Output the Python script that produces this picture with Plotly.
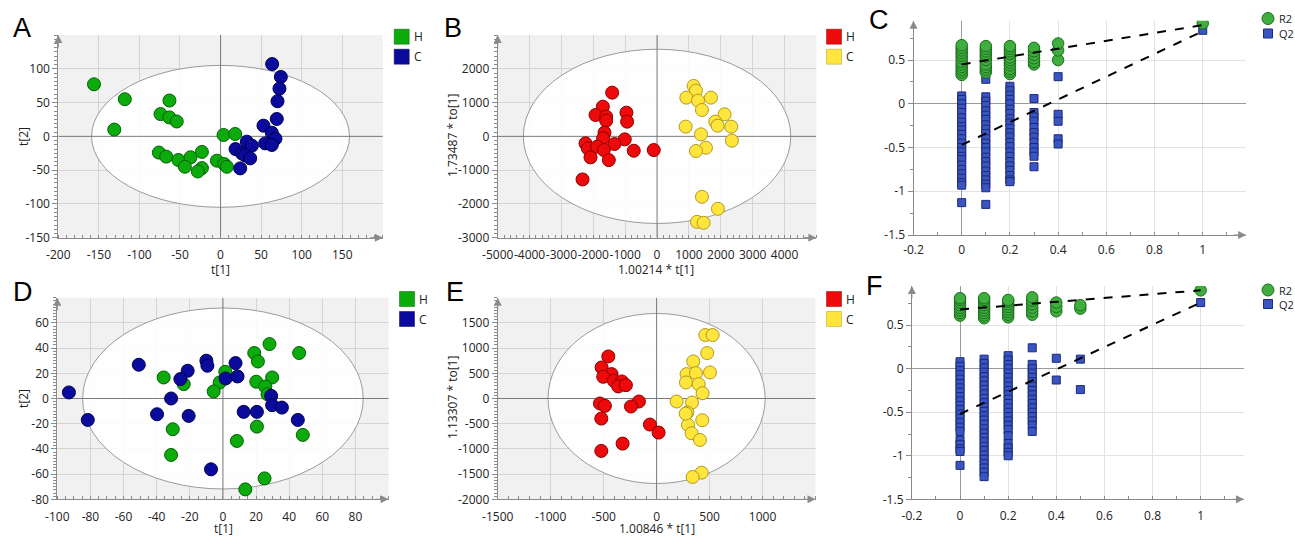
import plotly.graph_objects as go

W, H = 1295, 536

# ---------------- data ----------------
# Panel A (PCA scores)
a_h_t1 = [-156, -118, -131, -63, -74, -63, -54, -76, -67, -52, -37, -44, -23, -23, -28, -4.5, 3.7, 18, 4.5, 7.8]
a_h_t2 = [77, 55, 10, 53, 33, 28, 22, -24, -30, -35, -31, -45, -23, -47, -52, -36, 2, 3.5, -41, -45]
a_c_t1 = [63.6, 74.3, 72.6, 70.2, 69.3, 52.9, 63.2, 67.7, 55, 63.2, 32.4, 38.6, 18.5, 26.3, 30, 36.5, 24.2]
a_c_t2 = [107, 88, 70.6, 52, 25.7, 15.8, 5.4, -3.5, -10.4, -12.8, -7.9, -13.8, -18.8, -25.2, -28, -32.6, -47.4]
# Panel B (OPLS-DA scores)
b_h_t1 = [-1409, -1701, -1931, -1597, -1597, -960, -939, -1649, -1691, -1013, -1336, -2244, -2171, -1879, -1670, -2088, -1514, -731, -104, -2338]
b_h_to1 = [1294, 879, 632, 583, 464, 701, 435, 109, -59, -89, -227, -207, -356, -306, -405, -622, -702, -425, -405, -1275]
b_c_t1 = [1148, 1221, 919, 1284, 1409, 1691, 2119, 1827, 1900, 2328, 2349, 898, 1378, 1534, 1221, 1409, 1910, 1253, 1461]
b_c_to1 = [1492, 1354, 1146, 1057, 781, 1146, 652, 435, 316, 287, -128, 287, 59, -336, -435, -1789, -2144, -2530, -2559]
# Panel D (PCA scores)
d_h_t1 = [28.1, 18.9, 21.1, 46, -35.8, -23.7, 1.4, -2, -5.6, 20.1, 29.7, 25.5, 26.9, -30.3, -31.3, 8.4, 20.5, 48.2, 25.1, 13.5]
d_h_t2 = [43.2, 36.1, 29.4, 36.1, 16.7, 11.4, 21.2, 12.7, 5.6, 13.3, 16.7, 9.5, 3.4, -24.4, -44.8, -33.7, -22.3, -28.9, -63.4, -72.1]
d_c_t1 = [-93, -81.6, -50.8, -21.3, -25.7, -31.3, -39.8, -20.7, -10, -9.4, 1.6, 7.6, 8.8, 12.5, 20.5, 29.1, 29.7, 35.6, 45.2, -7.2]
d_c_t2 = [4.8, -17, 26.8, 22, 15.4, 0, -12.5, -13.8, 30, 26, 15.9, 28.1, 17.5, -10.6, -10.6, 2.1, -5.3, -7.2, -17, -56.2]
# Panel E (OPLS-DA scores)
e_h_t1 = [-456, -519, -425, -504, -403, -327, -362, -290, -535, -488, -167, -242, -522, -63, 19, -321, -522]
e_h_to1 = [835, 616, 484, 431, 351, 338, 239, 265, -99, -146, -60, -159, -398, -517, -676, -895, -1040]
e_c_t1 = [460, 529, 478, 346, 504, 283, 371, 277, 397, 434, 189, 334, 290, 431, 296, 330, 409, 425, 340, 275]
e_c_to1 = [1259, 1259, 901, 736, 517, 484, 504, 318, 285, 106, -60, -80, -278, -431, -524, -689, -822, -1471, -1557, -300]

# Hotelling T2 ellipse semi-axes (x, y)
ellipse_a = [159, 105]
ellipse_b = [4196, 2579]
ellipse_d = [84.7, 71.8]
ellipse_e = [1025, 1687]

# Panel C permutation test: correlation (x) -> values
c_r2 = {0.0: [0.33, 0.36, 0.39, 0.42, 0.45, 0.48, 0.52, 0.55, 0.58, 0.61, 0.64, 0.67],
        0.1: [0.36, 0.39, 0.42, 0.45, 0.5, 0.54, 0.57, 0.6, 0.63, 0.66],
        0.2: [0.34, 0.37, 0.4, 0.44, 0.47, 0.5, 0.53, 0.57, 0.6, 0.63, 0.66],
        0.3: [0.45, 0.48, 0.52, 0.56, 0.6, 0.64],
        0.4: [0.5, 0.61, 0.69],
        1.0: [0.92]}
c_q2 = {0.0: [0.09, 0.05, 0.0, -0.05, -0.1, -0.16, -0.21, -0.26, -0.3, -0.35, -0.4, -0.45, -0.5, -0.55, -0.6, -0.64, -0.7, -0.75, -0.8, -0.85, -0.9, -0.93, -1.13],
        0.1: [0.28, 0.08, 0.03, -0.02, -0.08, -0.13, -0.18, -0.24, -0.29, -0.34, -0.4, -0.45, -0.5, -0.55, -0.61, -0.66, -0.71, -0.77, -0.82, -0.87, -0.92, -0.96, -1.15],
        0.2: [0.2, 0.15, 0.1, 0.05, 0.0, -0.06, -0.11, -0.17, -0.22, -0.28, -0.33, -0.38, -0.44, -0.49, -0.55, -0.6, -0.66, -0.71, -0.76, -0.82, -0.87, -0.89],
        0.3: [0.06, -0.1, -0.15, -0.2, -0.27, -0.33, -0.38, -0.44, -0.5, -0.55, -0.6, -0.72],
        0.4: [0.31, -0.12, -0.2, -0.4, -0.46],
        1.0: [0.84]}
c_r2_line = [0.45, 0.90]
c_q2_line = [-0.47, 0.83]

# Panel F permutation test
f_r2 = {0.0: [0.61, 0.64, 0.67, 0.7, 0.73, 0.76, 0.79, 0.81],
        0.1: [0.58, 0.61, 0.64, 0.67, 0.7, 0.73, 0.76, 0.79, 0.81],
        0.2: [0.59, 0.62, 0.65, 0.68, 0.71, 0.74, 0.77, 0.79],
        0.3: [0.62, 0.66, 0.7, 0.74, 0.78, 0.82],
        0.4: [0.66, 0.71, 0.76],
        0.5: [0.69, 0.73],
        1.0: [0.9]}
f_q2 = {0.0: [0.08, 0.03, -0.02, -0.07, -0.12, -0.17, -0.22, -0.27, -0.32, -0.37, -0.42, -0.47, -0.52, -0.57, -0.62, -0.67, -0.72, -0.82, -0.87, -0.92, -0.95, -1.11],
        0.1: [0.11, 0.06, 0.01, -0.04, -0.09, -0.14, -0.19, -0.24, -0.29, -0.34, -0.39, -0.44, -0.49, -0.54, -0.59, -0.64, -0.69, -0.74, -0.79, -0.84, -0.89, -0.94, -0.99, -1.04, -1.09, -1.14, -1.19, -1.24],
        0.2: [0.15, 0.1, 0.05, 0.0, -0.05, -0.1, -0.15, -0.2, -0.25, -0.3, -0.35, -0.4, -0.45, -0.5, -0.55, -0.6, -0.65, -0.7, -0.77, -0.86, -0.91, -0.96, -1.0],
        0.3: [0.24, 0.05, 0.0, -0.05, -0.1, -0.15, -0.2, -0.25, -0.3, -0.35, -0.4, -0.45, -0.5, -0.55, -0.6, -0.65, -0.72],
        0.4: [0.12, -0.13],
        0.5: [0.11, -0.24],
        1.0: [0.76]}
f_r2_line = [0.68, 0.90]
f_q2_line = [-0.52, 0.76]
line_x = [0, 1]

# tick values
ticks_a_x = [-200, -150, -100, -50, 0, 50, 100, 150]
ticks_a_y = [-150, -100, -50, 0, 50, 100]
ticks_b_x = [-5000, -4000, -3000, -2000, -1000, 0, 1000, 2000, 3000, 4000]
ticks_b_y = [-3000, -2000, -1000, 0, 1000, 2000]
ticks_d_x = [-100, -80, -60, -40, -20, 0, 20, 40, 60, 80]
ticks_d_y = [-80, -60, -40, -20, 0, 20, 40, 60]
ticks_e_x = [-1500, -1000, -500, 0, 500, 1000]
ticks_e_y = [-2000, -1500, -1000, -500, 0, 500, 1000, 1500]
ticks_perm_x = [-0.2, 0, 0.2, 0.4, 0.6, 0.8, 1]
ticks_perm_y = [-1.5, -1, -0.5, 0, 0.5]

groups = ["H", "C"]
perm_labels = ["R2", "Q2"]
panel_letters = ["A", "B", "C", "D", "E", "F"]

# ---------------- styling ----------------
FONT = "Open Sans"
GREEN, GREEN_E = "#0aab0a", "#056005"
NAVY, NAVY_E = "#0a0a9c", "#00004e"
RED, RED_E = "#ee0a0a", "#8a0000"
YELLOW, YELLOW_E = "#ffe53c", "#b09a20"
PG, PG_E = "#3fae3f", "#1c6e1c"
PB, PB_E = "#3a55c2", "#1a2a78"
AXC = "#8a8a8a"


def fx(px):
    return px / W


def fy(py):
    return 1 - py / H


def fmt(v):
    return f"{v:g}"


fig = go.Figure()


def scatter(x, y, color, edge, ax, size=13, symbol="circle"):
    fig.add_trace(go.Scatter(x=x, y=y, mode="markers", xaxis="x" + ax, yaxis="y" + ax,
                             marker=dict(size=size, color=color, symbol=symbol,
                                         line=dict(color=edge, width=1)),
                             showlegend=False, hoverinfo="skip"))


# score plots
scatter(a_h_t1, a_h_t2, GREEN, GREEN_E, "")
scatter(a_c_t1, a_c_t2, NAVY, NAVY_E, "")
scatter(b_h_t1, b_h_to1, RED, RED_E, "2")
scatter(b_c_t1, b_c_to1, YELLOW, YELLOW_E, "2")
scatter(d_h_t1, d_h_t2, GREEN, GREEN_E, "4")
scatter(d_c_t1, d_c_t2, NAVY, NAVY_E, "4")
scatter(e_h_t1, e_h_to1, RED, RED_E, "5")
scatter(e_c_t1, e_c_to1, YELLOW, YELLOW_E, "5")


def flat(d):
    xs, ys = [], []
    for k, vals in d.items():
        for v in vals:
            xs.append(k)
            ys.append(v)
    return xs, ys


for r2, q2, r2l, q2l, ax in [(c_r2, c_q2, c_r2_line, c_q2_line, "3"),
                             (f_r2, f_q2, f_r2_line, f_q2_line, "6")]:
    qx, qy = flat(q2)
    scatter(qx, qy, PB, PB_E, ax, size=8, symbol="square")
    rx, ry = flat(r2)
    scatter(rx, ry, PG, PG_E, ax, size=11.5)
    for ly in (r2l, q2l):
        fig.add_trace(go.Scatter(x=line_x, y=ly, mode="lines", xaxis="x" + ax, yaxis="y" + ax,
                                 line=dict(color="black", width=2, dash="dash"),
                                 showlegend=False, hoverinfo="skip"))

# ---------------- axes ----------------
tickfont = dict(family=FONT, size=12, color="#222")


def axis_pair(ax, xdom, ydom, xr, yr, xt, yt, xminor, yminor, score=True, pad=6):
    common = dict(showline=True, linecolor=AXC, linewidth=1, automargin=False,
                  showgrid=True, tickfont=tickfont, tickwidth=1,
                  fixedrange=True, tickangle=0)
    if score:
        common.update(gridcolor="#d4d4d4", zeroline=False)
    else:
        common.update(gridcolor="#e3e3e3", zeroline=True, zerolinecolor="#9a9a9a", zerolinewidth=1.2)
    # x: invisible outside major ticks (label spacing) + visible inside minor ticks
    xa = dict(common, domain=xdom, range=xr, tickmode="array", tickvals=xt,
              ticktext=[fmt(v) for v in xt], ticks="outside", ticklen=pad,
              tickcolor="rgba(0,0,0,0)",
              anchor="y" + ax, minor=dict(ticks="inside", ticklen=3, dtick=xminor, tickcolor=AXC, showgrid=False))
    ya = dict(common, domain=ydom, range=yr, tickmode="array", tickvals=yt,
              ticktext=[fmt(v) for v in yt], ticks="outside", ticklen=5, tickcolor=AXC,
              anchor="x" + ax, minor=dict(ticks="outside", ticklen=3, dtick=yminor, tickcolor=AXC, showgrid=False))
    fig.update_layout(**{"xaxis" + ax: xa, "yaxis" + ax: ya})


top = [fy(237.7), fy(35)]
bot = [fy(499.3), fy(297.7)]
ranges = {"": ([-200, 200], [-150, 150]), "2": ([-5000, 5000], [-3000, 3000]),
          "3": ([-0.2, 1.18], [-1.5, 0.95]), "4": ([-100, 100], [-80, 80]),
          "5": ([-1500, 1500], [-2000, 2000]), "6": ([-0.2, 1.18], [-1.5, 0.95])}
axis_pair("", [fx(58.3), fx(382.8)], top, *ranges[""], ticks_a_x, ticks_a_y, 10, 6.25, pad=6)
axis_pair("2", [fx(497.7), fx(816.4)], top, *ranges["2"], ticks_b_x, ticks_b_y, 200, 125, pad=6)
axis_pair("3", [fx(913.5), fx(1246.1)], [fy(235), fy(20.7)], *ranges["3"],
          ticks_perm_x, ticks_perm_y, 0.1, 0.25, score=False, pad=4)
axis_pair("4", [fx(57.3), fx(388.6)], bot, *ranges["4"], ticks_d_x, ticks_d_y, 5, 2.5, pad=6)
axis_pair("5", [fx(497.7), fx(815.5)], bot, *ranges["5"], ticks_e_x, ticks_e_y, 100, 62.5, pad=6)
axis_pair("6", [fx(911.9), fx(1244)], [fy(499.3), fy(286)], *ranges["6"],
          ticks_perm_x, ticks_perm_y, 0.1, 0.25, score=False, pad=5)

# ---------------- shapes: ellipses + zero lines ----------------
shapes = []
for ax, (ea, eb) in [("", ellipse_a), ("2", ellipse_b), ("4", ellipse_d), ("5", ellipse_e)]:
    xr, yr = ranges[ax]
    shapes.append(dict(type="circle", xref="x" + ax, yref="y" + ax, x0=-ea, x1=ea, y0=-eb, y1=eb,
                       line=dict(color="#9a9a9a", width=1), fillcolor="rgba(255,255,255,0.88)",
                       layer="between"))
    shapes.append(dict(type="line", xref="x" + ax, yref="y" + ax, x0=0, x1=0, y0=yr[0], y1=yr[1],
                       line=dict(color="#7a7a7a", width=1), layer="between"))
    shapes.append(dict(type="line", xref="x" + ax, yref="y" + ax, x0=xr[0], x1=xr[1], y0=0, y1=0,
                       line=dict(color="#7a7a7a", width=1), layer="between"))

# permutation panels have white background
for ax in ["3", "6"]:
    xr, yr = ranges[ax]
    shapes.append(dict(type="rect", xref="x" + ax, yref="y" + ax, x0=xr[0], x1=xr[1], y0=yr[0], y1=yr[1],
                       fillcolor="white", line=dict(width=0), layer="below"))

annotations = []
# axis arrows
for ax, (xr, yr) in ranges.items():
    annotations.append(dict(xref="x" + ax, yref="y" + ax, x=xr[1], y=yr[0], text="", showarrow=True,
                            ax=-14, ay=0, arrowhead=2, arrowsize=1.6, arrowwidth=1, arrowcolor=AXC, standoff=0))
    annotations.append(dict(xref="x" + ax, yref="y" + ax, x=xr[0], y=yr[1], text="", showarrow=True,
                            ax=0, ay=14, arrowhead=2, arrowsize=1.6, arrowwidth=1, arrowcolor=AXC, standoff=0))

# panel letters
for letter, (px, py) in zip(panel_letters, [(22, 28), (453, 28), (879, 20), (23, 292), (455, 292), (874, 286)]):
    annotations.append(dict(xref="paper", yref="paper", x=fx(px), y=fy(py), text=letter, showarrow=False,
                            font=dict(family="Liberation Sans", size=27, color="black"),
                            xanchor="center", yanchor="middle"))

# axis titles
title_font = dict(family=FONT, size=12, color="#222")
for txt, px, py, ang in [("t[2]", 23, 136, -90), ("t[1]", 220, 269.5, 0),
                         ("1.73487 * to[1]", 452, 136, -90), ("1.00214 * t[1]", 656, 269.5, 0),
                         ("t[2]", 23, 398, -90), ("t[1]", 223, 528, 0),
                         ("1.13307 * to[1]", 452, 398, -90), ("1.00846 * t[1]", 657, 528, 0)]:
    annotations.append(dict(xref="paper", yref="paper", x=fx(px), y=fy(py), text=txt, showarrow=False,
                            font=title_font, textangle=ang, xanchor="center", yanchor="middle"))

# legends (score plots: squares)
for cx, cy, cols in [(401.7, 36.7, [(GREEN, GREEN_E), (NAVY, NAVY_E)]),
                     (834, 36.7, [(RED, RED_E), (YELLOW, YELLOW_E)]),
                     (407, 299, [(GREEN, GREEN_E), (NAVY, NAVY_E)]),
                     (834, 299, [(RED, RED_E), (YELLOW, YELLOW_E)])]:
    for i, (g, (c, e)) in enumerate(zip(groups, cols)):
        yy = cy + 20 * i
        shapes.append(dict(type="rect", xref="paper", yref="paper", x0=fx(cx - 7.5), x1=fx(cx + 7.5),
                           y0=fy(yy + 7.5), y1=fy(yy - 7.5), fillcolor=c, line=dict(color=e, width=0.5)))
        annotations.append(dict(xref="paper", yref="paper", x=fx(cx + 10), y=fy(yy), text=g, showarrow=False,
                                xanchor="left", yanchor="middle", font=dict(family=FONT, size=12, color="#222")))

# legends (permutation plots)
for cx, cy, dy in [(1268, 18.5, 15), (1268, 290, 14)]:
    shapes.append(dict(type="circle", xref="paper", yref="paper", x0=fx(cx - 6), x1=fx(cx + 6),
                       y0=fy(cy + 6), y1=fy(cy - 6), fillcolor=PG, line=dict(color=PG_E, width=1)))
    shapes.append(dict(type="rect", xref="paper", yref="paper", x0=fx(cx - 4.5), x1=fx(cx + 4.5),
                       y0=fy(cy + dy + 4.5), y1=fy(cy + dy - 4.5), fillcolor=PB, line=dict(color=PB_E, width=1)))
    for i, lab in enumerate(perm_labels):
        annotations.append(dict(xref="paper", yref="paper", x=fx(cx + 9), y=fy(cy + dy * i), text=lab,
                                showarrow=False, xanchor="left", yanchor="middle",
                                font=dict(family=FONT, size=11, color="#222")))

fig.update_layout(width=W, height=H, autosize=False, margin=dict(l=0, r=0, t=0, b=0, pad=0),
                  paper_bgcolor="white", plot_bgcolor="#f1f1f1", showlegend=False,
                  shapes=shapes, annotations=annotations)

fig.write_html("out.html")
